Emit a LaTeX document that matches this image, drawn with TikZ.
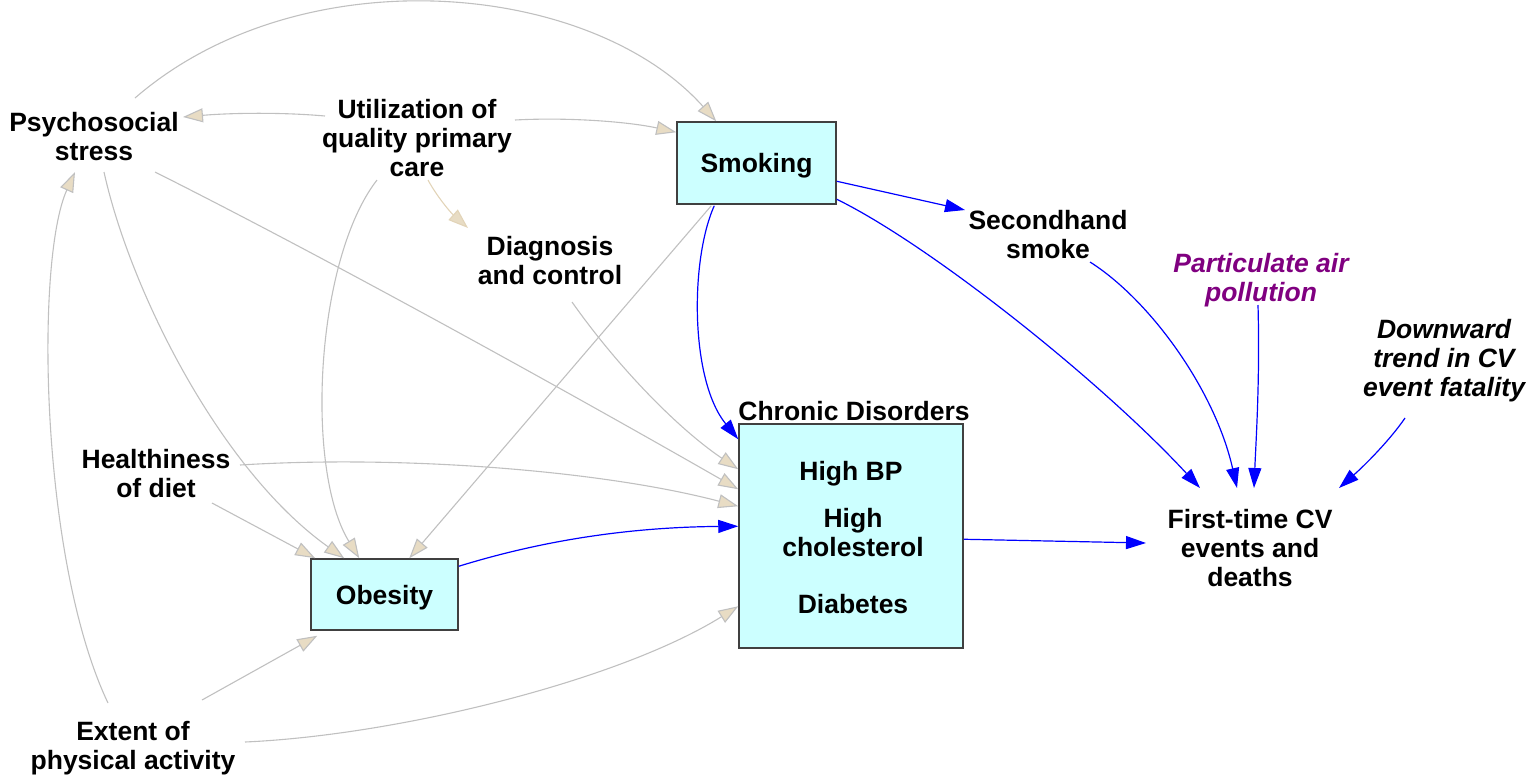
\documentclass[tikz,border=0pt]{standalone}
\usepackage{fontspec}
\setmainfont{Liberation Sans}
\usetikzlibrary{arrows.meta,calc}
\definecolor{boxfill}{RGB}{204,255,255}
\definecolor{boxline}{RGB}{64,64,64}
\definecolor{linkgray}{RGB}{192,192,192}
\definecolor{tipfill}{RGB}{232,220,196}
\definecolor{tanline}{RGB}{226,212,184}
\definecolor{plum}{RGB}{128,0,128}

\begin{document}
\begin{tikzpicture}[x=0.5pt,y=-0.5pt,
  lbl/.style={font=\fontsize{13.25}{14.5}\selectfont\bfseries, align=center, inner sep=0pt},
  ilbl/.style={lbl, font=\fontsize{13.25}{14.5}\selectfont\bfseries\itshape},
  stock/.style={draw=boxline, fill=boxfill, line width=0.75pt, inner sep=0pt, text depth=0pt,
                font=\fontsize{13.25}{14.5}\selectfont\bfseries},
  gedge/.style={draw=linkgray, line width=0.55pt,
                -{Triangle[length=10pt,width=7pt,fill=tipfill]}},
  bedge/.style={draw=blue, line width=0.6pt, -{Triangle[length=10pt,width=6.5pt]}},
]
\useasboundingbox (0,0) rectangle (1536,778);

% variables
\node[lbl] (psy)  at (94,137)    {Psychosocial\\stress};
\node[lbl] (util) at (417,138.5) {Utilization of\\quality primary\\care};
\node[lbl] (sec)  at (1048,235)  {Secondhand\\smoke};
\node[lbl] (diag) at (550,261)   {Diagnosis\\and control};
\node[lbl] (diet) at (156,474)   {Healthiness\\of diet};
\node[lbl] (ext)  at (133,748)   {Extent of\\physical activity};
\node[ilbl, text=plum] (pm) at (1261,280) {Particulate air\\pollution};
\node[ilbl] (down) at (1444,361) {Downward\\trend in CV\\event fatality};
\node[lbl] (ft)   at (1250,548.5) {First-time CV\\events and\\deaths};

% stocks
\node[stock, minimum width=79.5pt, minimum height=41pt] (smk) at (756.5,163) {Smoking};
\node[stock, minimum width=73.5pt, minimum height=35.5pt] (obe) at (384.5,594.5) {Obesity};
\node[stock, minimum width=112pt, minimum height=112pt] (chr) at (851,536) {};
\node[lbl] (chrt) at (854,411.5) {Chronic Disorders};
\node[lbl] (hbp)  at (851,473.3) {High BP};
\node[lbl] (hch)  at (853,533)   {High\\cholesterol};
\node[lbl] (dia)  at (853,604.5) {Diabetes};

% gray influence links
\draw[gedge] ($(psy)+(41,-39)$) .. controls (300,-45) and (590,-20) .. ($(smk.north west)+(40,0)$);
\draw[gedge] ($(util)+(-92,-22.5)$) .. controls (280,112) and (230,113) .. ($(psy)+(89,-20)$);
\draw[gedge] ($(util)+(98,-18.5)$) .. controls (570,117) and (630,122) .. ($(smk.north west)+(0,11)$);
\draw[gedge, draw=tanline] ($(util)+(11,41.5)$) .. controls (436,195) and (450,212) .. ($(diag)+(-82,-33)$);
\draw[gedge] ($(util)+(-40,41.5)$) .. controls (315,260) and (305,470) .. ($(obe.north west)+(49,0)$);
\draw[gedge] ($(psy)+(10,35)$) .. controls (130,290) and (220,470) .. ($(obe.north west)+(34,0)$);
\draw[gedge] ($(psy)+(61,35)$) .. controls (350,270) and (600,410) .. ($(chr.north west)+(0,66)$);
\draw[gedge] ($(diag)+(22,41)$) .. controls (620,370) and (680,430) .. ($(chr.north west)+(0,46)$);
\draw[gedge] ($(diet)+(84,-9)$) .. controls (400,455) and (600,470) .. ($(chr.north west)+(0,83)$);
\draw[gedge] ($(diet)+(56,29)$) -- ($(obe.north west)+(5,0)$);
\draw[gedge] ($(smk.south west)+(35,1)$) -- ($(obe.north west)+(99,0)$);
\draw[gedge] ($(ext)+(69,-48)$) -- ($(obe.south west)+(7,5)$);
\draw[gedge] ($(ext)+(112,-6)$) .. controls (400,735) and (620,680) .. ($(chr.north west)+(0,183)$);
\draw[gedge] ($(ext)+(-25,-45)$) .. controls (40,560) and (35,260) .. ($(psy)+(-19,35)$);

% blue causal links
\draw[bedge] ($(smk.north east)+(0,60)$) -- ($(sec)+(-83,-25)$);
\draw[bedge] ($(smk.north east)+(0,78)$) .. controls (930,245) and (1100,380) .. ($(ft)+(-50,-60.5)$);
\draw[bedge] ($(smk.south west)+(38,1)$) .. controls (690,260) and (690,380) .. ($(chr.north west)+(0,16)$);
\draw[bedge] ($(sec)+(42,27)$) .. controls (1150,300) and (1215,390) .. ($(ft)+(-13,-60.5)$);
\draw[bedge] ($(pm)+(-3,25)$) .. controls (1260,380) and (1256,440) .. ($(ft)+(4,-60.5)$);
\draw[bedge] ($(down)+(-39,57)$) .. controls (1390,440) and (1365,465) .. ($(ft)+(89,-60.5)$);
\draw[bedge] ($(obe.north east)+(0,8)$) .. controls (560,535) and (650,527) .. ($(chr.north west)+(0,103)$);
\draw[bedge] ($(chr.north east)+(0,116)$) -- ($(ft)+(-104,-5.5)$);
\end{tikzpicture}
\end{document}
